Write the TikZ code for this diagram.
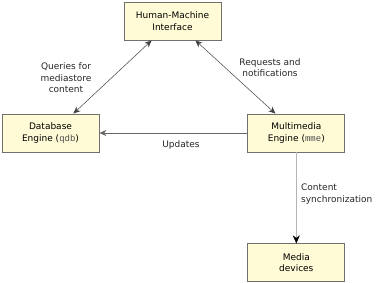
\documentclass[tikz,border=0pt]{standalone}
\usepackage{fontspec}
\setmainfont{DejaVu Sans}
\setmonofont{Liberation Mono}
\usepackage{tikz}
\usetikzlibrary{positioning,arrows.meta}
\definecolor{boxfill}{HTML}{FFFBD6}
\definecolor{boxline}{HTML}{707070}
\definecolor{syncline}{HTML}{B4B4B4}

\begin{document}
\begin{tikzpicture}[
    x=1pt, y=1pt,
    node distance=74pt and 148pt,
    font=\fontsize{9}{11.5}\selectfont,
    block/.style={rectangle, draw=boxline, fill=boxfill, line width=0.8pt, minimum width=97pt, minimum height=38pt, inner sep=0pt, align=center},
    link/.style={{Stealth[length=7pt,width=6pt]}-{Stealth[length=7pt,width=6pt]}, line width=0.5pt, draw=black!75},
    arrow/.style={-{Stealth[length=7pt,width=6pt]}, line width=0.6pt, draw=black!60},
    sync/.style={-{Stealth[length=8pt,width=7pt,black,line width=0.4pt]}, line width=1.5pt, draw=syncline},
    note/.style={align=center, inner sep=0pt, text=black!85}
]
    \useasboundingbox (0,0) rectangle (383,283);
    \node (hmi) [block] at (172.5,262) {Human-Machine\\Interface};
    \node (db) [block] at (50.5,150) {Database\\Engine ({\color{black!70}\texttt{qdb}})};
    \node (mme) [block, right=of db] {Multimedia\\Engine ({\color{black!70}\texttt{mme}})};
    \node (media) [block, below=91pt of mme] {Media\\devices};
    \draw [link] ([xshift=28pt]hmi.south west) -- ([xshift=-26pt]db.north east);
    \draw [link] ([xshift=-26pt]hmi.south east) -- ([xshift=28pt]mme.north west);
    \draw [arrow] (mme) -- (db);
    \draw [sync] (mme) -- (media);
    \node (queries) [note] at (66,205) {Queries for\\mediastore\\content};
    \node (requests) [note] at (270,215.5) {Requests and\\notifications};
    \node (updates) [note] at (181,138) {Updates};
    \node (sync) [note, align=left, anchor=west] at (301,89) {Content\\synchronization};
\end{tikzpicture}
\end{document}
